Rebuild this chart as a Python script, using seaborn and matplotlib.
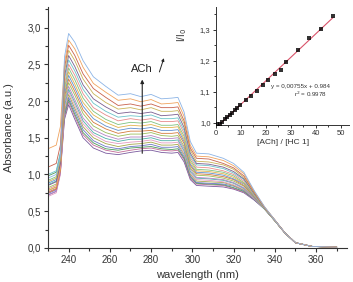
import pandas as pd
import seaborn as sns
import matplotlib.pyplot as plt
from matplotlib.ticker import MultipleLocator, FuncFormatter

# spectres UV-vis, du plus haut (ACh max) au plus bas
wavelength = [230, 234, 236, 238, 240, 243, 247, 252, 258, 264, 270, 275, 280, 285, 290,
              293, 296, 299, 302, 308, 315, 320, 325, 330, 335, 340, 345, 350, 358, 370]

spectra = [
    [0.95, 1.00, 1.25, 2.60, 2.92, 2.80, 2.55, 2.33, 2.20, 2.08, 2.10, 2.06, 2.09, 2.03, 2.04, 2.05, 1.85, 1.45, 1.29, 1.28, 1.22, 1.15, 1.03, 0.78, 0.56, 0.38, 0.20, 0.07, 0.02, 0.01],
    [1.35, 1.40, 1.65, 2.52, 2.83, 2.71, 2.46, 2.24, 2.12, 2.01, 2.03, 1.99, 2.02, 1.96, 1.97, 1.98, 1.79, 1.40, 1.25, 1.24, 1.19, 1.12, 1.01, 0.77, 0.56, 0.38, 0.20, 0.07, 0.02, 0.01],
    [1.10, 1.15, 1.40, 2.46, 2.76, 2.62, 2.37, 2.17, 2.05, 1.94, 1.96, 1.93, 1.96, 1.91, 1.91, 1.92, 1.73, 1.36, 1.22, 1.21, 1.15, 1.09, 0.98, 0.76, 0.55, 0.38, 0.20, 0.07, 0.02, 0.01],
    [0.90, 0.95, 1.20, 2.40, 2.69, 2.55, 2.30, 2.10, 1.98, 1.89, 1.91, 1.88, 1.91, 1.86, 1.86, 1.87, 1.69, 1.33, 1.18, 1.17, 1.13, 1.07, 0.96, 0.75, 0.55, 0.38, 0.20, 0.07, 0.02, 0.01],
    [0.85, 0.90, 1.15, 2.34, 2.62, 2.47, 2.22, 2.03, 1.92, 1.83, 1.85, 1.83, 1.85, 1.80, 1.81, 1.82, 1.64, 1.29, 1.15, 1.14, 1.10, 1.04, 0.94, 0.74, 0.55, 0.38, 0.20, 0.07, 0.02, 0.01],
    [1.00, 1.05, 1.30, 2.29, 2.56, 2.41, 2.16, 1.97, 1.86, 1.78, 1.80, 1.79, 1.81, 1.76, 1.76, 1.77, 1.60, 1.26, 1.13, 1.12, 1.08, 1.02, 0.93, 0.73, 0.54, 0.37, 0.20, 0.07, 0.02, 0.01],
    [0.80, 0.85, 1.10, 2.23, 2.50, 2.35, 2.10, 1.91, 1.81, 1.73, 1.76, 1.74, 1.76, 1.72, 1.72, 1.73, 1.56, 1.23, 1.10, 1.09, 1.05, 1.00, 0.91, 0.72, 0.54, 0.37, 0.20, 0.07, 0.02, 0.01],
    [0.92, 0.97, 1.22, 2.18, 2.45, 2.29, 2.04, 1.86, 1.75, 1.68, 1.71, 1.70, 1.72, 1.67, 1.67, 1.68, 1.52, 1.20, 1.07, 1.06, 1.03, 0.98, 0.89, 0.72, 0.54, 0.37, 0.20, 0.07, 0.02, 0.01],
    [0.78, 0.83, 1.08, 2.14, 2.40, 2.23, 1.98, 1.81, 1.71, 1.64, 1.67, 1.66, 1.68, 1.64, 1.64, 1.65, 1.48, 1.17, 1.05, 1.04, 1.01, 0.96, 0.88, 0.71, 0.54, 0.37, 0.20, 0.07, 0.02, 0.01],
    [0.88, 0.93, 1.18, 2.10, 2.35, 2.18, 1.93, 1.76, 1.66, 1.60, 1.63, 1.62, 1.64, 1.60, 1.60, 1.61, 1.45, 1.14, 1.03, 1.02, 0.99, 0.94, 0.87, 0.70, 0.54, 0.37, 0.20, 0.07, 0.02, 0.01],
    [0.75, 0.80, 1.05, 2.06, 2.30, 2.13, 1.88, 1.71, 1.62, 1.56, 1.59, 1.59, 1.60, 1.56, 1.56, 1.57, 1.42, 1.12, 1.01, 1.00, 0.97, 0.93, 0.85, 0.70, 0.54, 0.37, 0.20, 0.07, 0.02, 0.01],
    [0.82, 0.87, 1.12, 2.01, 2.25, 2.08, 1.83, 1.66, 1.57, 1.52, 1.55, 1.55, 1.57, 1.53, 1.52, 1.53, 1.38, 1.09, 0.99, 0.98, 0.95, 0.91, 0.84, 0.69, 0.54, 0.37, 0.20, 0.07, 0.02, 0.01],
    [0.72, 0.77, 1.02, 1.97, 2.20, 2.02, 1.77, 1.61, 1.53, 1.48, 1.51, 1.51, 1.53, 1.49, 1.49, 1.50, 1.35, 1.07, 0.96, 0.95, 0.93, 0.89, 0.82, 0.68, 0.54, 0.37, 0.20, 0.07, 0.02, 0.01],
    [0.86, 0.91, 1.16, 1.94, 2.16, 1.98, 1.73, 1.57, 1.49, 1.45, 1.48, 1.48, 1.50, 1.46, 1.46, 1.47, 1.32, 1.04, 0.95, 0.94, 0.92, 0.88, 0.81, 0.68, 0.53, 0.37, 0.20, 0.07, 0.02, 0.01],
    [0.70, 0.75, 1.00, 1.90, 2.13, 1.94, 1.69, 1.54, 1.45, 1.42, 1.44, 1.45, 1.47, 1.43, 1.43, 1.44, 1.29, 1.02, 0.93, 0.92, 0.90, 0.86, 0.80, 0.67, 0.53, 0.37, 0.20, 0.07, 0.02, 0.01],
    [0.78, 0.83, 1.08, 1.87, 2.09, 1.90, 1.65, 1.50, 1.42, 1.38, 1.41, 1.42, 1.44, 1.40, 1.40, 1.41, 1.27, 1.00, 0.91, 0.90, 0.89, 0.85, 0.79, 0.67, 0.53, 0.37, 0.20, 0.07, 0.02, 0.01],
    [0.74, 0.79, 1.04, 1.84, 2.05, 1.86, 1.61, 1.46, 1.38, 1.35, 1.38, 1.39, 1.41, 1.37, 1.37, 1.38, 1.24, 0.98, 0.89, 0.88, 0.87, 0.84, 0.78, 0.66, 0.53, 0.37, 0.20, 0.07, 0.02, 0.01],
    [0.98, 1.03, 1.28, 1.81, 2.02, 1.82, 1.57, 1.43, 1.35, 1.33, 1.36, 1.37, 1.38, 1.35, 1.34, 1.35, 1.22, 0.97, 0.88, 0.87, 0.86, 0.82, 0.77, 0.66, 0.53, 0.37, 0.20, 0.07, 0.02, 0.01],
    [0.76, 0.81, 1.06, 1.78, 1.99, 1.79, 1.54, 1.40, 1.33, 1.30, 1.33, 1.35, 1.36, 1.33, 1.32, 1.33, 1.20, 0.95, 0.87, 0.86, 0.85, 0.81, 0.76, 0.66, 0.53, 0.37, 0.20, 0.07, 0.02, 0.01],
    [0.72, 0.77, 1.02, 1.75, 1.95, 1.75, 1.50, 1.36, 1.29, 1.27, 1.30, 1.32, 1.33, 1.30, 1.29, 1.30, 1.17, 0.93, 0.85, 0.84, 0.83, 0.80, 0.75, 0.65, 0.53, 0.37, 0.20, 0.07, 0.02, 0.01],
]

curve_colors = ["#8cb4e6", "#f0a35e", "#c8624d", "#c9b458", "#7b5e8f", "#6cc4c9", "#e88b8b",
                "#7fc27f", "#e3b34c", "#5f8fd0", "#d47a3c", "#9bbd5a", "#b584c4", "#4fb0a8",
                "#e39ac0", "#a6a84a", "#6f77c8", "#4a9a5a", "#c26b96", "#7a5a9e"]

# inset : I/I0 en fonction de [ACh]/[HC 1]
ratio = [0.5, 1.5, 2.5, 3.5, 4.5, 5.5, 6.5, 7.5, 8.5, 9.5, 12, 14, 16.5, 19, 21, 23.5, 26, 28, 33, 37.5, 42, 47]
i_i0 = [0.995, 0.997, 1.004, 1.013, 1.020, 1.026, 1.033, 1.041, 1.048, 1.056, 1.074, 1.087,
        1.104, 1.122, 1.139, 1.159, 1.172, 1.195, 1.235, 1.274, 1.304, 1.346]

sns.set_style("ticks")
plt.rcParams['font.family'] = ['Liberation Sans', 'DejaVu Sans']
plt.rcParams['text.color'] = '#333333'
plt.rcParams['axes.labelcolor'] = '#333333'
plt.rcParams['xtick.color'] = '#333333'
plt.rcParams['ytick.color'] = '#333333'

rows = []
for k, spec in enumerate(spectra):
    for w, a in zip(wavelength, spec):
        rows.append({'curve': k, 'wl': w, 'abs': a})
df = pd.DataFrame(rows)

comma = FuncFormatter(lambda v, p: f"{v:.1f}".replace(".", ","))

fig = plt.figure(figsize=(3.53, 2.82), dpi=100)
ax = fig.add_axes([0.136, 0.121, 0.847, 0.854])
# on trace le plus bas d'abord, couleurs par courbe
pal = {k: c for k, c in enumerate(curve_colors)}
sns.lineplot(data=df, x='wl', y='abs', hue='curve', palette=pal, hue_order=list(range(19, -1, -1)),
             estimator=None, sort=False, legend=False, linewidth=0.6, ax=ax)
ax.set_xlim(230, 375)
ax.set_ylim(0, 3.28)
ax.xaxis.set_major_locator(MultipleLocator(20))
ax.xaxis.set_minor_locator(MultipleLocator(10))
ax.yaxis.set_major_locator(MultipleLocator(0.5))
ax.yaxis.set_minor_locator(MultipleLocator(0.25))
ax.yaxis.set_major_formatter(comma)
ax.tick_params(which='major', length=3, width=0.8, labelsize=7, pad=2)
ax.tick_params(which='minor', length=2, width=0.8)
sns.despine(ax=ax)
for s in ['left', 'bottom']:
    ax.spines[s].set_color('#333333')
    ax.spines[s].set_linewidth(0.8)
ax.set_xlabel('wavelength (nm)', fontsize=8)
ax.set_ylabel('Absorbance (a.u.)', fontsize=8)
ax.yaxis.set_label_coords(-0.115, 0.5)
ax.xaxis.set_label_coords(0.5, -0.09)

ax.annotate('', xy=(275.7, 2.33), xytext=(275.7, 1.25),
            arrowprops=dict(arrowstyle='-|>', color='#222222', lw=0.8, mutation_scale=5))
ax.text(275.5, 2.44, 'ACh', fontsize=8, ha='center', va='center', color='#222222')
ax.annotate('', xy=(286.6, 2.62), xytext=(283.6, 2.36),
            arrowprops=dict(arrowstyle='-|>', color='#222222', lw=0.7, mutation_scale=4))

# inset
ax2 = fig.add_axes([0.612, 0.557, 0.378, 0.418])
sns.regplot(x=ratio, y=i_i0, ax=ax2, ci=None, marker='s',
            scatter_kws=dict(color='black', s=5, zorder=3, linewidths=0),
            line_kws=dict(color='#d9536a', lw=0.8))
ax2.set_xlim(0, 53.6)
ax2.set_ylim(0.993, 1.374)
ax2.xaxis.set_major_locator(MultipleLocator(10))
ax2.xaxis.set_minor_locator(MultipleLocator(5))
ax2.yaxis.set_major_locator(MultipleLocator(0.1))
ax2.yaxis.set_minor_locator(MultipleLocator(0.05))
ax2.yaxis.set_major_formatter(comma)
ax2.tick_params(which='major', length=2.5, width=0.7, labelsize=5.5, pad=1.5)
ax2.tick_params(which='minor', length=1.5, width=0.7)
sns.despine(ax=ax2)
for s in ['left', 'bottom']:
    ax2.spines[s].set_color('#333333')
    ax2.spines[s].set_linewidth(0.7)
ax2.set_facecolor('none')
ax2.set_xlabel('[ACh] / [HC 1]', fontsize=6, labelpad=1)
ax2.set_ylabel('I/I$_0$', fontsize=7)
ax2.yaxis.set_label_coords(-0.2, 0.76)
ax2.text(0.63, 0.31, 'y = 0,00755x + 0.984', transform=ax2.transAxes, fontsize=4.5, ha='center')
ax2.text(0.71, 0.24, 'r$^2$ = 0.9978', transform=ax2.transAxes, fontsize=4.5, ha='center')

fig.savefig('out.png', dpi=100)
